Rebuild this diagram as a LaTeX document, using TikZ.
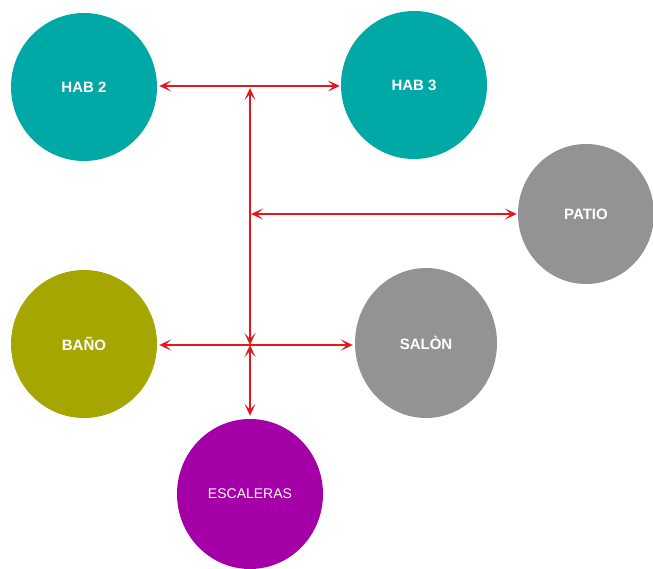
\documentclass[tikz,border=0pt]{standalone}
\usepackage{fontspec}
\setmainfont{Liberation Sans}
\usetikzlibrary{arrows.meta,shapes.geometric}
\definecolor{tealc}{RGB}{0,168,166}
\definecolor{olivec}{RGB}{166,166,0}
\definecolor{grayc}{RGB}{147,147,147}
\definecolor{purplec}{RGB}{165,0,168}
\definecolor{redc}{RGB}{226,24,28}
\begin{document}
\begin{tikzpicture}[x=1pt,y=-1pt,
  room/.style={ellipse, draw=none, minimum width=146pt, minimum height=148pt, inner sep=0pt,
    text=white, font=\fontsize{15}{17}\selectfont\bfseries},
  link/.style={draw=redc, line width=2pt, {Stealth[length=12pt,width=11pt,inset=6pt]}-{Stealth[length=12pt,width=11pt,inset=6pt]}}
]
\useasboundingbox (0,0) rectangle (653,569);
\node[room, fill=tealc] (hab2) at (84,87) {HAB 2};
\node[room, fill=tealc] (hab3) at (414,85) {HAB 3};
\node[room, fill=grayc, minimum width=136pt, minimum height=140pt] (patio) at (586,214) {PATIO};
\node[room, fill=olivec] (bano) at (84,344) {BAÑO};
\node[room, fill=grayc, minimum width=142pt, minimum height=150pt] (salon) at (426,343) {SALÒN};
\node[room, fill=purplec, minimum width=146pt, minimum height=150pt, font=\fontsize{14}{16}\selectfont] (esc) at (250,494) {ESCALERAS};
\coordinate (j1) at (250,88);
\coordinate (j2) at (250,345);
\coordinate (j3) at (251,214);
\draw[link, shorten <=2pt, shorten >=1pt] (hab2.east |- 0,86) -- (hab3.west |- 0,86);
\draw[link] (j1) -- (j2);
\draw[link, shorten >=3pt] (j2) -- (esc.north);
\draw[link, shorten <=2pt, shorten >=2pt] (bano.east |- j2) -- (salon.west |- j2);
\draw[link, shorten >=1pt] (j3) -- (patio.west);
\end{tikzpicture}
\end{document}
